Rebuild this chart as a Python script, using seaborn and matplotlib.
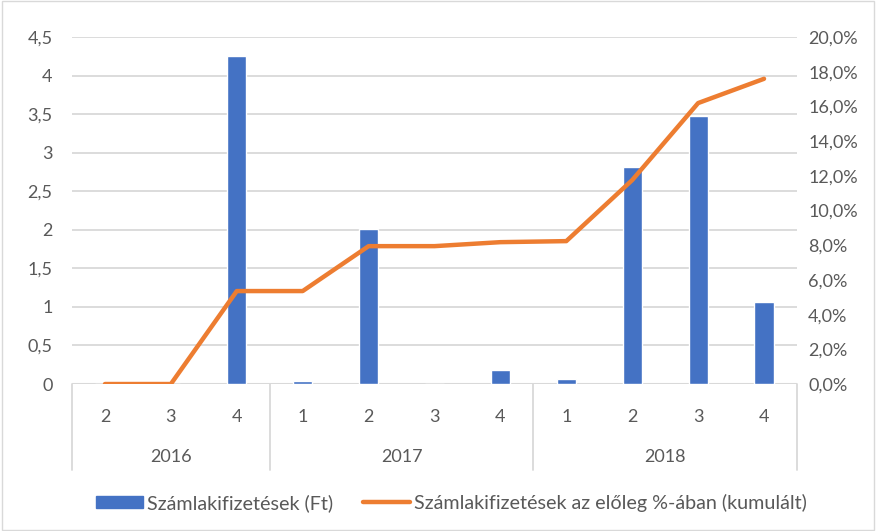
import numpy as np
import pandas as pd
import matplotlib
matplotlib.use("Agg")
import matplotlib.pyplot as plt
import matplotlib.transforms as mtransforms
from matplotlib.patches import Patch
from matplotlib.lines import Line2D
import seaborn as sns

# Quarterly data
years = ["2016", "2016", "2016", "2017", "2017", "2017", "2017", "2018", "2018", "2018", "2018"]
quarters = ["2", "3", "4", "1", "2", "3", "4", "1", "2", "3", "4"]
payments = [0.0, 0.0, 4.25, 0.04, 2.01, 0.0, 0.18, 0.07, 2.82, 3.48, 1.06]
cumulative_pct = [0.0, 0.0, 0.0536, 0.0536, 0.0795, 0.0795, 0.0818, 0.0824, 0.1176, 0.162, 0.176]
year_labels = ["2016", "2017", "2018"]

bar_label = "Számlakifizetések (Ft)"
line_label = "Számlakifizetések az előleg %-ában (kumulált)"

BLUE = "#4472C4"
ORANGE = "#ED7D31"
TEXT = "#595959"
GRID = "#D9D9D9"

sns.set_theme(style="white")
plt.rcParams["font.family"] = ["Lato", "DejaVu Sans"]

df = pd.DataFrame({
    "key": [f"{y}-{q}" for y, q in zip(years, quarters)],
    "quarter": quarters,
    "year": years,
    "payments": payments,
    "pct": cumulative_pct,
})
df["pos"] = np.arange(len(df))

fig = plt.figure(figsize=(8.76, 5.31), dpi=100)
ax = fig.add_axes([0.0822, 0.2768, 0.8276, 0.6532])

sns.barplot(data=df, x="key", y="payments", color=BLUE, width=0.29,
            saturation=1, ax=ax, zorder=3)
ax.set_xlim(-0.5, len(df) - 0.5)
ax.set_ylim(0, 4.5)
yt = np.arange(0, 4.51, 0.5)
ax.set_yticks(yt)
ax.set_yticklabels([f"{v:g}".replace(".", ",") for v in yt])
ax.yaxis.grid(True, color=GRID, linewidth=1.3, zorder=0)
ax.set_axisbelow(True)
for s in ax.spines.values():
    s.set_visible(False)
ax.axhline(0, color=GRID, linewidth=1.5, zorder=2)
ax.set_xticks(df["pos"])
ax.set_xticklabels(df["quarter"])
ax.tick_params(axis="x", length=0, pad=18, labelsize=13, labelcolor=TEXT)
ax.tick_params(axis="y", length=0, pad=14, labelsize=13, labelcolor=TEXT)
ax.set_xlabel("")
ax.set_ylabel("")

ax2 = ax.twinx()
sns.lineplot(data=df, x="pos", y="pct", color=ORANGE, linewidth=3.2, ax=ax2,
             solid_joinstyle="round", solid_capstyle="round", zorder=4)
ax2.set_ylim(0, 0.20)
pt = np.arange(0, 0.2001, 0.02)
ax2.set_yticks(pt)
ax2.set_yticklabels([f"{v*100:.1f}%".replace(".", ",") for v in pt])
ax2.tick_params(axis="y", length=0, pad=8, labelsize=13, labelcolor=TEXT)
ax2.set_xlabel("")
ax2.set_ylabel("")
for s in ax2.spines.values():
    s.set_visible(False)

# Grouped category axis: year labels and separators
trans = mtransforms.blended_transform_factory(ax.transData, ax.transAxes)
bounds = [-0.5]
for i in range(1, len(years)):
    if years[i] != years[i - 1]:
        bounds.append(i - 0.5)
bounds.append(len(years) - 0.5)
for b in bounds:
    ax.plot([b, b], [0, -0.248], transform=trans, color=GRID, linewidth=1.3,
            clip_on=False)
for yl, lo, hi in zip(year_labels, bounds[:-1], bounds[1:]):
    ax.text((lo + hi) / 2, -0.21, yl, transform=trans, ha="center", va="center",
            fontsize=13, color=TEXT)

handles = [Patch(facecolor=BLUE, edgecolor=BLUE),
           Line2D([0], [0], color=ORANGE, linewidth=3.2, solid_capstyle="round")]
fig.legend(handles, [bar_label, line_label], loc="center",
           bbox_to_anchor=(0.515, 0.053), ncol=2, frameon=False, fontsize=14.2,
           labelcolor=TEXT, handlelength=2.4, handleheight=0.6,
           handletextpad=0.2, columnspacing=1.5)

# Light chart-area border
fig.patches.append(plt.Rectangle((0.002, 0.002), 0.996, 0.996, transform=fig.transFigure,
                                 fill=False, edgecolor=GRID, linewidth=1))

fig.savefig("out.png", dpi=100)
